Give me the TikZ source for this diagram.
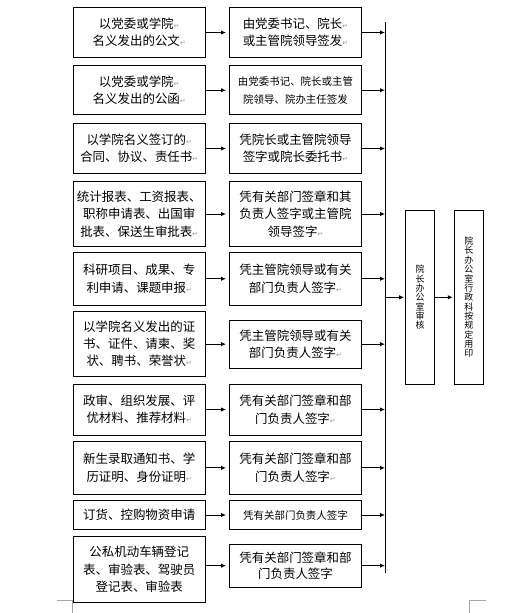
\documentclass[tikz,border=0pt]{standalone}
\usepackage{fontspec}
\newfontfamily\cjk{Noto Sans CJK SC}
\newfontfamily\dejavu{DejaVu Sans}
\usetikzlibrary{arrows.meta}
\newcommand\rmk{{\color{black!40}\dejavu\fontsize{7}{7}\selectfont ↵}}
\begin{document}
\begin{tikzpicture}[x=1bp,y=-1bp,
  box/.style={draw, line width=1bp, inner sep=1bp, align=center, font=\cjk\fontsize{12.5}{17.5}\selectfont},
  smallbox/.style={box, font=\cjk\fontsize{10.5}{18.5}\selectfont},
  sz/.style 2 args={minimum width=#1bp, minimum height=#2bp},
  arr/.style={line width=1bp, -{Latex[length=5bp,width=4.5bp]}},
  ln/.style={line width=1bp},
  vbox/.style={draw, line width=1bp, inner sep=1bp, align=center, font=\cjk\fontsize{9}{9.4}\selectfont},
  pagemark/.style={draw=black!35, line width=0.8bp}
]
\useasboundingbox (0,0) rectangle (531,613);

% left column
\node[box, sz={132.5}{50}]   (L1)  at (139.25,32.5)  {以党委或学院\rmk\\名义发出的公文\rmk};
\node[box, sz={132.5}{49.5}] (L2)  at (139.25,90.25) {以党委或学院\rmk\\名义发出的公函\rmk};
\node[box, sz={132.5}{50}]   (L3)  at (139.25,148.5) {以学院名义签订的\rmk\\合同、协议、责任书\rmk};
\node[box, sz={132.5}{65}]   (L4)  at (139.25,214)   {统计报表、工资报表、\\职称申请表、出国审\\批表、保送生审批表\rmk};
\node[box, sz={132.5}{52.5}] (L5)  at (139.25,278.75){科研项目、成果、专\\利申请、课题申报\rmk};
\node[box, sz={132.5}{65.5}] (L6)  at (139.25,343.75){以学院名义发出的证\\书、证件、请柬、奖\\状、聘书、荣誉状\rmk};
\node[box, sz={132.5}{51}]   (L7)  at (139.25,409.5) {政审、组织发展、评\\优材料、推荐材料\rmk};
\node[box, sz={132.5}{52.3}] (L8)  at (139.25,467.85){新生录取通知书、学\\历证明、身份证明\rmk};
\node[box, sz={132.5}{29.3}] (L9)  at (139.25,514.65){订货、控购物资申请};
\node[box, sz={132.5}{65.6}] (L10) at (139.25,569.5) {公私机动车辆登记\\表、审验表、驾驶员\\登记表、审验表};

% right column
\node[box, sz={132}{50}]      (R1)  at (295.5,32.5)  {由党委书记、院长\rmk\\或主管院领导签发\rmk};
\node[smallbox, sz={132}{49.5}] (R2) at (295.5,90.25) {由党委书记、院长或主管\\院领导、院办主任签发};
\node[box, sz={132}{50}]      (R3)  at (295.5,148.5) {凭院长或主管院领导\\签字或院长委托书\rmk};
\node[box, sz={132}{65}]      (R4)  at (295.5,214)   {凭有关部门签章和其\\负责人签字或主管院\\领导签字\rmk};
\node[box, sz={132}{52.5}]    (R5)  at (295.5,278.75){凭主管院领导或有关\\部门负责人签字\rmk};
\node[box, sz={132}{48.3}]    (R6)  at (295.5,344.15){凭主管院领导或有关\\部门负责人签字\rmk};
\node[box, sz={132}{51}]      (R7)  at (295.5,409.5) {凭有关部门签章和部\\门负责人签字\rmk};
\node[box, sz={132}{52.3}]    (R8)  at (295.5,467.85){凭有关部门签章和部\\门负责人签字\rmk};
\node[smallbox, sz={132}{28.6}] (R9) at (295.5,515)   {凭有关部门负责人签字};
\node[box, sz={132}{43.3}, font=\cjk\fontsize{12.5}{16}\selectfont] (R10) at (295.5,565.65){凭有关部门签章和部\\门负责人签字};

% final boxes
\node[vbox, sz={28.6}{173.3}] (M1) at (420,297.35) {院\\长\\办\\公\\室\\审\\核};
\node[vbox, sz={29}{173.3}]   (M2) at (468.8,297.35) {院\\长\\办\\公\\室\\行\\政\\科\\按\\规\\定\\用\\印};

% collecting bus
\coordinate (bt) at (385,22);
\coordinate (bb) at (385,573.3);
\draw[ln] (bt) -- (bb);

\foreach \i in {1,...,10}{
  \draw[arr, shorten >=3bp] (R\i.west -| L\i.east) -- (R\i.west);
  \draw[arr] (R\i.east) -- (R\i.east -| bt);
}
\draw[arr, shorten >=1bp] (M1.west -| bt) -- (M1.west);
\draw[arr, shorten >=1bp] (M1.east) -- (M2.west);

% page corner marks
\draw[pagemark] (57,600) -- (72.5,600) -- (72.5,613);
\draw[pagemark] (485.7,600.7) -- (469.5,600.7) -- (469.5,613);
\end{tikzpicture}
\end{document}
